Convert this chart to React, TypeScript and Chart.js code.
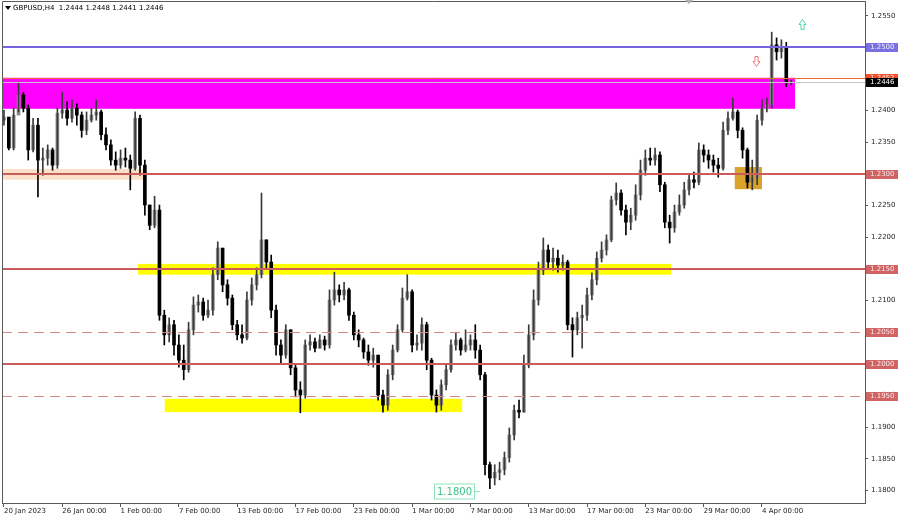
import React, { useEffect, useRef } from 'react';
import { Chart, registerables } from 'chart.js';

Chart.register(...registerables);

// ---------- data ----------
const symbolTitle = 'GBPUSD,H4  1.2444 1.2448 1.2441 1.2446';
const firstOpen = 1.2385;
const closes = [
  1.2390, 1.2341, 1.2393, 1.2425, 1.2404, 1.2338, 1.2377, 1.2322, 1.2325, 1.2338,
  1.2314, 1.2396, 1.2401, 1.2388, 1.2404, 1.2393, 1.2369, 1.2385, 1.2393, 1.2398,
  1.2362, 1.2346, 1.2322, 1.2314, 1.2325, 1.2322, 1.2309, 1.2388, 1.2314, 1.2251,
  1.2219, 1.2243, 1.2077, 1.2046, 1.2062, 1.2030, 1.2006, 1.1991, 1.2054, 1.2093,
  1.2098, 1.2077, 1.2085, 1.2141, 1.2183, 1.2125, 1.2104, 1.2062, 1.2046, 1.2041,
  1.2101, 1.2125, 1.2141, 1.2196, 1.2161, 1.2085, 1.2030, 1.2014, 1.2054, 1.1994,
  1.1959, 1.1951, 1.2030, 1.2035, 1.2025, 1.2038, 1.2030, 1.2101, 1.2117, 1.2109,
  1.2117, 1.2077, 1.2046, 1.2038, 1.2019, 1.2006, 1.2014, 1.1951, 1.1935, 1.1983,
  1.2022, 1.2054, 1.2104, 1.2114, 1.2030, 1.2033, 1.2062, 1.2006, 1.1951, 1.1935,
  1.1967, 1.1991, 1.2030, 1.2038, 1.2022, 1.2030, 1.2038, 1.2022, 1.1983, 1.1841,
  1.1820, 1.1829, 1.1833, 1.1852, 1.1888, 1.1927, 1.1924, 1.1998, 1.2046, 1.2101,
  1.2148, 1.2180, 1.2161, 1.2167, 1.2156, 1.2161, 1.2062, 1.2054, 1.2073, 1.2077,
  1.2109, 1.2133, 1.2167, 1.2180, 1.2196, 1.2259, 1.2270, 1.2243, 1.2224, 1.2235,
  1.2267, 1.2306, 1.2325, 1.2322, 1.2330, 1.2283, 1.2224, 1.2215, 1.2240, 1.2251,
  1.2275, 1.2291, 1.2287, 1.2338, 1.2330, 1.2322, 1.2314, 1.2309, 1.2369, 1.2388,
  1.2398, 1.2369, 1.2338, 1.2287, 1.2294, 1.2385, 1.2404, 1.2409, 1.2504, 1.2493,
  1.2499, 1.2444, 1.2446,
];
const highs = [
  1.2401, 1.2388, 1.2404, 1.2445, 1.2429, 1.2409, 1.2388, 1.2388, 1.2341, 1.2346,
  1.2341, 1.2404, 1.2429, 1.2414, 1.2417, 1.2411, 1.2398, 1.2398, 1.2404, 1.2417,
  1.2401, 1.2373, 1.2354, 1.2335, 1.2338, 1.2341, 1.2330, 1.2398, 1.2393, 1.2322,
  1.2251, 1.2265, 1.2251, 1.2085, 1.2073, 1.2069, 1.2046, 1.2030, 1.2066, 1.2106,
  1.2109, 1.2104, 1.2101, 1.2152, 1.2193, 1.2183, 1.2133, 1.2109, 1.2069, 1.2062,
  1.2114, 1.2136, 1.2152, 1.2270, 1.2196, 1.2172, 1.2093, 1.2038, 1.2062, 1.2054,
  1.1998, 1.1972, 1.2038, 1.2046, 1.2041, 1.2046, 1.2044, 1.2117, 1.2145, 1.2125,
  1.2129, 1.2120, 1.2082, 1.2054, 1.2041, 1.2030, 1.2025, 1.2014, 1.1959, 1.1991,
  1.2030, 1.2062, 1.2120, 1.2141, 1.2117, 1.2046, 1.2073, 1.2066, 1.2009, 1.1959,
  1.1975, 1.1998, 1.2038, 1.2049, 1.2041, 1.2054, 1.2046, 1.2062, 1.2030, 1.1987,
  1.1845, 1.1841, 1.1845, 1.1861, 1.1899, 1.1935, 1.1943, 1.2014, 1.2062, 1.2117,
  1.2161, 1.2199, 1.2188, 1.2183, 1.2180, 1.2172, 1.2164, 1.2073, 1.2082, 1.2093,
  1.2120, 1.2144, 1.2177, 1.2193, 1.2204, 1.2265, 1.2286, 1.2275, 1.2251, 1.2246,
  1.2283, 1.2322, 1.2338, 1.2341, 1.2341, 1.2335, 1.2287, 1.2235, 1.2251, 1.2267,
  1.2287, 1.2298, 1.2303, 1.2349, 1.2346, 1.2338, 1.2330, 1.2325, 1.2382, 1.2398,
  1.2420, 1.2401, 1.2373, 1.2341, 1.2322, 1.2393, 1.2417, 1.2420, 1.2524, 1.2515,
  1.2512, 1.2508, 1.2448,
];
const lows = [
  1.2377, 1.2338, 1.2338, 1.2398, 1.2398, 1.2322, 1.2335, 1.2264, 1.2298, 1.2314,
  1.2306, 1.2309, 1.2388, 1.2377, 1.2382, 1.2377, 1.2358, 1.2362, 1.2382, 1.2385,
  1.2354, 1.2338, 1.2314, 1.2306, 1.2309, 1.2311, 1.2275, 1.2306, 1.2298, 1.2235,
  1.2212, 1.2215, 1.2069, 1.2030, 1.2035, 1.2014, 1.1995, 1.1975, 1.1987, 1.2046,
  1.2082, 1.2069, 1.2073, 1.2077, 1.2133, 1.2114, 1.2093, 1.2054, 1.2038, 1.2033,
  1.2038, 1.2093, 1.2117, 1.2136, 1.2152, 1.2073, 1.2014, 1.2002, 1.2009, 1.1983,
  1.1948, 1.1923, 1.1946, 1.2022, 1.2019, 1.2025, 1.2022, 1.2025, 1.2093, 1.2098,
  1.2101, 1.2069, 1.2038, 1.2027, 1.2009, 1.1998, 1.1995, 1.1943, 1.1924, 1.1927,
  1.1975, 1.2019, 1.2051, 1.2101, 1.2019, 1.2022, 1.2022, 1.1991, 1.1943, 1.1924,
  1.1927, 1.1959, 1.1987, 1.2022, 1.2014, 1.2019, 1.2022, 1.2009, 1.1975, 1.1825,
  1.1803, 1.1809, 1.1817, 1.1825, 1.1845, 1.1880, 1.1915, 1.1924, 1.1994, 1.2038,
  1.2093, 1.2141, 1.2152, 1.2148, 1.2145, 1.2148, 1.2054, 1.2011, 1.2046, 1.2025,
  1.2069, 1.2101, 1.2125, 1.2161, 1.2172, 1.2193, 1.2251, 1.2235, 1.2204, 1.2212,
  1.2227, 1.2259, 1.2298, 1.2314, 1.2314, 1.2272, 1.2215, 1.2191, 1.2208, 1.2235,
  1.2246, 1.2267, 1.2278, 1.2283, 1.2319, 1.2309, 1.2303, 1.2295, 1.2306, 1.2362,
  1.2385, 1.2357, 1.2325, 1.2278, 1.2275, 1.2283, 1.2377, 1.2398, 1.2404, 1.2480,
  1.2483, 1.2438, 1.2441,
];

const timeTickIndex = [0, 12, 24, 36, 48, 60, 72, 84, 96, 108, 120, 132, 144, 156];
const timeTickLabels = [
  '20 Jan 2023', '26 Jan 00:00', '1 Feb 00:00', '7 Feb 00:00', '13 Feb 00:00',
  '17 Feb 00:00', '23 Feb 00:00', '1 Mar 00:00', '7 Mar 00:00', '13 Mar 00:00',
  '17 Mar 00:00', '23 Mar 00:00', '29 Mar 00:00', '4 Apr 00:00',
];
const priceTicks = [
  1.255, 1.25, 1.245, 1.24, 1.235, 1.23, 1.225, 1.22, 1.215, 1.21, 1.205, 1.2,
  1.195, 1.19, 1.185, 1.18,
];

// horizontal levels
const blueLevel = 1.25;
const zoneEdgeLevel = 1.2452;
const bidPrice = 1.2446;
const solidLevels = [1.23, 1.215, 1.2];
const dashedLevels = [1.205, 1.195];

// rectangles: [start index, end index, top price, bottom price]
const zoneStart = [-0.4, -0.4, 27.6, 33.1, 150.4];
const zoneEnd = [162.8, 29, 137.3, 94.3, 156];
const zoneTop = [1.2452, 1.2308, 1.2158, 1.1945, 1.2311];
const zoneBottom = [1.2403, 1.2291, 1.2141, 1.1924, 1.2276];

// marks
const downArrowAt = [154.8, 1.2479];
const upArrowAt = [164.2, 1.2537];
const lowLabelIndex = 99;
const lowLabelPrice = 1.18;
const lowLabelText = '1.1800';
const shiftMarkerIndex = 141;

const xMin = -0.4;
const xMax = 177.2;
const yMin = 1.17805;
const yMax = 1.25732;

// ---------- styles ----------
const FONT = 'DejaVu Sans';
const zoneColors = ['#ff00ff', '#fae0c8', '#ffff00', '#ffff00', '#d8a22c'];
const BULL = '#8c8c8c';
const BEAR = '#000000';
const RED = '#cc5c5c';

const opens = closes.map((c, i) => (i === 0 ? firstOpen : closes[i - 1]));

const overlayPlugin = {
  id: 'mtOverlay',
  beforeDatasetsDraw(chart: any) {
    const { ctx, chartArea: a, scales } = chart;
    const x = scales.x;
    const y = scales.y;
    ctx.save();
    ctx.beginPath();
    ctx.rect(a.left, a.top, a.right - a.left, a.bottom - a.top);
    ctx.clip();
    zoneStart.forEach((s, k) => {
      const x0 = Math.max(a.left, x.getPixelForValue(s));
      const x1 = x.getPixelForValue(zoneEnd[k]);
      const y0 = y.getPixelForValue(zoneTop[k]);
      const y1 = y.getPixelForValue(zoneBottom[k]);
      ctx.fillStyle = zoneColors[k];
      ctx.fillRect(x0, y0, x1 - x0, y1 - y0);
    });
    ctx.restore();
  },
  afterDatasetsDraw(chart: any) {
    const { ctx, chartArea: a, scales } = chart;
    const x = scales.x;
    const y = scales.y;
    ctx.save();
    ctx.beginPath();
    ctx.rect(a.left, a.top, a.right - a.left, a.bottom - a.top);
    ctx.clip();
    const hline = (p: number, color: string, w: number, dash: number[] = []) => {
      const py = Math.round(y.getPixelForValue(p)) + (w % 2 ? 0.5 : 0);
      ctx.beginPath();
      ctx.setLineDash(dash);
      ctx.strokeStyle = color;
      ctx.lineWidth = w;
      ctx.moveTo(a.left, py);
      ctx.lineTo(a.right, py);
      ctx.stroke();
    };
    dashedLevels.forEach((p) => hline(p, '#d88a8a', 1, [10, 6]));
    solidLevels.forEach((p) => hline(p, RED, 2));
    hline(bidPrice, '#c8c8c8', 1);
    hline(zoneEdgeLevel, '#f06a3c', 1);
    hline(blueLevel, '#7564e0', 2);
    ctx.setLineDash([]);

    // hollow arrows
    const arrow = (pos: number[], dir: number, color: string) => {
      const cx = Math.round(x.getPixelForValue(pos[0])) + 0.5;
      const cy = Math.round(y.getPixelForValue(pos[1])) + 0.5;
      const s = dir; // 1 down, -1 up
      ctx.beginPath();
      ctx.moveTo(cx - 1.5, cy - 5 * s);
      ctx.lineTo(cx + 1.5, cy - 5 * s);
      ctx.lineTo(cx + 1.5, cy);
      ctx.lineTo(cx + 3.5, cy);
      ctx.lineTo(cx, cy + 5 * s);
      ctx.lineTo(cx - 3.5, cy);
      ctx.lineTo(cx - 1.5, cy);
      ctx.closePath();
      ctx.strokeStyle = color;
      ctx.lineWidth = 1;
      ctx.stroke();
    };
    arrow(downArrowAt, 1, '#f07878');
    arrow(upArrowAt, -1, '#48dca0');

    // price label near the low
    const ax = x.getPixelForValue(lowLabelIndex);
    const ay = Math.round(y.getPixelForValue(lowLabelPrice));
    const bw = 40;
    const bh = 15;
    const bx = Math.round(ax - 11 - bw);
    ctx.fillStyle = '#ffffff';
    ctx.fillRect(bx, ay - bh / 2, bw, bh);
    ctx.strokeStyle = '#8ee6bc';
    ctx.lineWidth = 1;
    ctx.strokeRect(bx + 0.5, ay - bh / 2 + 0.5, bw, bh);
    ctx.beginPath();
    ctx.moveTo(bx + bw, ay + 0.5);
    ctx.lineTo(ax - 5, ay + 0.5);
    ctx.stroke();
    ctx.fillStyle = '#3cc48a';
    ctx.font = `10px "${FONT}"`;
    ctx.textAlign = 'center';
    ctx.textBaseline = 'middle';
    ctx.fillText(lowLabelText, bx + bw / 2 + 0.5, ay + 1);
    ctx.restore();
  },
  afterDraw(chart: any) {
    const { ctx, chartArea: a, scales } = chart;
    const x = scales.x;
    const y = scales.y;
    ctx.save();
    // frame
    ctx.strokeStyle = '#5a5a5a';
    ctx.lineWidth = 1;
    ctx.beginPath();
    ctx.moveTo(a.left + 0.5, a.bottom);
    ctx.lineTo(a.left + 0.5, a.top + 0.5);
    ctx.lineTo(a.right, a.top + 0.5);
    ctx.stroke();

    // title
    ctx.fillStyle = '#000000';
    ctx.beginPath();
    ctx.moveTo(a.left + 3, a.top + 5);
    ctx.lineTo(a.left + 9, a.top + 5);
    ctx.lineTo(a.left + 6, a.top + 9);
    ctx.closePath();
    ctx.fill();
    ctx.font = `7px "${FONT}"`;
    ctx.textAlign = 'left';
    ctx.textBaseline = 'middle';
    ctx.fillText(symbolTitle, a.left + 11, a.top + 7);

    // shift marker
    const sx = Math.round(x.getPixelForValue(shiftMarkerIndex));
    ctx.fillStyle = '#b0b0b0';
    ctx.beginPath();
    ctx.moveTo(sx - 4, 0);
    ctx.lineTo(sx + 4, 0);
    ctx.lineTo(sx, 4);
    ctx.closePath();
    ctx.fill();

    // coloured axis labels
    const tag = (p: number, bg: string, fg: string) => {
      const py = Math.round(y.getPixelForValue(p));
      ctx.fillStyle = bg;
      ctx.fillRect(a.right + 1, py - 4, 32, 9);
      ctx.fillStyle = fg;
      ctx.font = `7px "${FONT}"`;
      ctx.textAlign = 'left';
      ctx.textBaseline = 'middle';
      ctx.fillText(p.toFixed(4), a.right + 5, py + 0.5);
    };
    [...dashedLevels, ...solidLevels].forEach((p) => tag(p, '#d06464', '#fbe8e8'));
    tag(blueLevel, '#7c70e0', '#f0f0ff');
    tag(zoneEdgeLevel, '#f0502a', '#ffe8e0');
    tag(bidPrice, '#000000', '#ffffff');
    ctx.restore();
  },
};

export default function App() {
  const ref = useRef<HTMLCanvasElement | null>(null);

  useEffect(() => {
    document.body.style.margin = '0';
    document.body.style.overflow = 'hidden';
    const canvas = ref.current;
    if (!canvas) return;
    Chart.defaults.font.family = FONT;

    const wickData = closes.map((_, i) => ({ x: i, y: [lows[i], highs[i]] }));
    const bodyData = closes.map((c, i) => ({ x: i, y: [opens[i], c] }));
    const bodyColors = closes.map((c, i) => (c >= opens[i] ? BULL : BEAR));
    const wickColors = closes.map((c, i) => (c >= opens[i] ? '#3a3a3a' : '#000000'));

    const chart = new Chart(canvas, {
      type: 'bar',
      data: {
        datasets: [
          {
            label: 'wick',
            data: wickData as any,
            backgroundColor: wickColors,
            barThickness: 1,
            grouped: false,
            borderWidth: 0,
          } as any,
          {
            label: 'body',
            data: bodyData as any,
            backgroundColor: bodyColors,
            barThickness: 3,
            grouped: false,
            borderWidth: 0,
            minBarLength: 1,
          } as any,
        ],
      },
      options: {
        animation: false,
        responsive: false,
        devicePixelRatio: 1,
        layout: { padding: { left: 2, top: 1, right: 0, bottom: 0 } },
        plugins: { legend: { display: false }, tooltip: { enabled: false } },
        scales: {
          x: {
            type: 'linear',
            min: xMin,
            max: xMax,
            offset: false,
            grid: { display: true, drawOnChartArea: false, drawTicks: true, tickLength: 4, color: '#5a5a5a', offset: false },
            border: { display: true, color: '#5a5a5a' },
            afterBuildTicks: (s: any) => {
              s.ticks = timeTickIndex.map((v) => ({ value: v }));
            },
            afterFit: (s: any) => {
              s.height = 13;
              s.paddingLeft = 0;
              s.paddingRight = 0;
            },
            ticks: {
              autoSkip: false,
              maxRotation: 0,
              minRotation: 0,
              align: 'start',
              padding: 0,
              color: '#1e1e1e',
              font: { size: 7, family: FONT },
              callback: (_v: any, i: number) => timeTickLabels[i],
            },
          },
          y: {
            type: 'linear',
            position: 'right',
            min: yMin,
            max: yMax,
            beginAtZero: false,
            grid: { display: true, drawOnChartArea: false, drawTicks: true, tickLength: 3, color: '#5a5a5a' },
            border: { display: true, color: '#5a5a5a' },
            afterBuildTicks: (s: any) => {
              s.ticks = priceTicks.map((v) => ({ value: v }));
            },
            afterFit: (s: any) => {
              s.width = 35;
              s.paddingTop = 0;
              s.paddingBottom = 0;
            },
            ticks: {
              padding: 3,
              color: '#1e1e1e',
              font: { size: 7, family: FONT },
              callback: (v: any) => Number(v).toFixed(4),
            },
          },
        },
      } as any,
      plugins: [overlayPlugin],
    });
    return () => chart.destroy();
  }, []);

  return (
    <div style={{ width: 900, height: 516, background: '#ffffff' }}>
      <canvas ref={ref} width={900} height={516} style={{ display: 'block' }} />
    </div>
  );
}
